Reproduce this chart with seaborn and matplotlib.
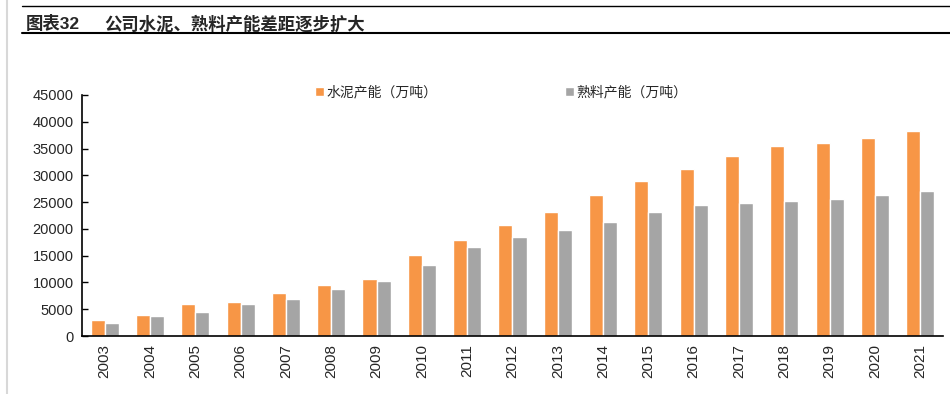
import pandas as pd
import numpy as np
import matplotlib.pyplot as plt
import seaborn as sns
from matplotlib.lines import Line2D

# data (万吨)
years = [str(y) for y in range(2003, 2022)]
cement = [3000, 4000, 6060, 6430, 7940, 9500, 10560, 15060, 17870, 20810,
          23120, 26310, 28940, 31250, 33620, 35500, 36000, 37000, 38310]
clinker = [2440, 3750, 4560, 6060, 6880, 8690, 10310, 13190, 16560, 18440,
           19750, 21250, 23120, 24440, 24750, 25190, 25560, 26310, 27060]
series_names = ["水泥产能（万吨）", "熟料产能（万吨）"]
y_ticks = list(range(0, 45001, 5000))

df = pd.DataFrame({"year": years * 2,
                   "value": cement + clinker,
                   "series": [series_names[0]] * len(years) + [series_names[1]] * len(years)})

sns.set_style("white")
plt.rcParams['font.family'] = ['Liberation Sans', 'Noto Sans CJK SC', 'DejaVu Sans']

fig = plt.figure(figsize=(9.5, 3.94), dpi=100)
ax = fig.add_axes([0.0863, 0.1472, 0.9063, 0.6117])

sns.barplot(data=df, x="year", y="value", hue="series", ax=ax,
            palette=["#F79646", "#A5A5A5"], width=0.62, saturation=1)

ax.set_ylim(0, 45000)
ax.set_xlim(-0.5, len(years) - 0.5)
ax.set_yticks(y_ticks)
ax.set_yticklabels([str(t) for t in y_ticks], fontsize=10.5)
ax.set_xticks(range(len(years)))
ax.set_xticklabels(years, rotation=90, fontsize=11)
ax.set_xticks(np.arange(-0.5, len(years)), minor=True)
ax.tick_params(axis="x", which="major", length=0, pad=6)
ax.tick_params(axis="x", which="minor", direction="in", length=4, width=1, color="black")
ax.tick_params(axis="y", direction="in", length=4, width=1, color="black", left=True, pad=6)
ax.set_xlabel("")
ax.set_ylabel("")
for s in ["top", "right"]:
    ax.spines[s].set_visible(False)
for s in ["left", "bottom"]:
    ax.spines[s].set_color("black")
    ax.spines[s].set_linewidth(1.2)

ax.legend(loc="center left", bbox_to_anchor=(0.332, 0.766), bbox_transform=fig.transFigure,
          ncol=2, frameon=False, fontsize=10, handlelength=0.6, handleheight=0.6,
          handletextpad=0.2, columnspacing=9.2, borderpad=0, borderaxespad=0)

# header
fig.text(0.027, 0.94, "图表32", fontsize=12.5, fontweight="bold", va="center")
fig.text(0.110, 0.94, "公司水泥、熟料产能差距逐步扩大", fontsize=12.5, fontweight="bold", va="center")
fig.add_artist(Line2D([0.023, 1], [0.985, 0.985], transform=fig.transFigure, color="black", lw=1))
fig.add_artist(Line2D([0.023, 1], [0.916, 0.916], transform=fig.transFigure, color="black", lw=1.5))
fig.add_artist(Line2D([0.0074, 0.0074], [0, 1], transform=fig.transFigure, color="#d8d8d8", lw=1.5))

plt.savefig("out.png", dpi=100)
